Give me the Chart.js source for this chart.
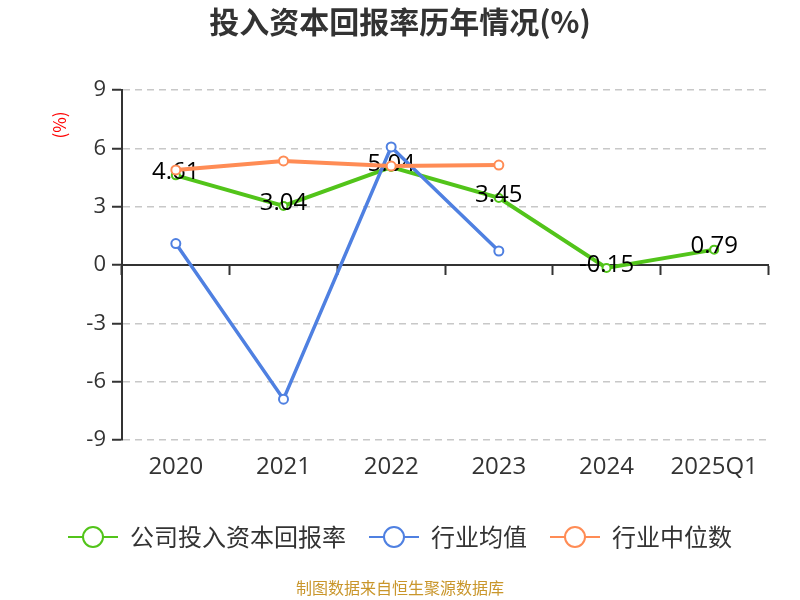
<!DOCTYPE html>
<html>
<head>
<meta charset="utf-8">
<script src="https://cdn.jsdelivr.net/npm/chart.js@4/dist/chart.umd.min.js"></script>
<style>
  html, body { margin: 0; padding: 0; background: #fff; }
  #wrap { width: 800px; height: 600px; }
</style>
</head>
<body>
<div id="wrap"><canvas id="roic-chart" width="800" height="600"></canvas></div>
<script>
const categories = ['2020', '2021', '2022', '2023', '2024', '2025Q1'];
const companyRoic = [4.61, 3.04, 5.04, 3.45, -0.15, 0.79];
const industryMean = [1.10, -6.90, 6.07, 0.72, null, null];
const industryMedian = [4.89, 5.35, 5.09, 5.14, null, null];
const yTicks = [-9, -6, -3, 0, 3, 6, 9];

const seriesNames = ['公司投入资本回报率', '行业均值', '行业中位数'];
const seriesColors = ['#52c41a', '#4f80e1', '#ff8c55'];

const FONT = '"Open Sans", "Noto Sans CJK SC", sans-serif';
const CJK_FONT = '"Noto Sans CJK SC", "Noto Sans", sans-serif';

// legend symbol: short line with a hollow circle in the middle
function legendSymbol(color) {
  const c = document.createElement('canvas');
  c.width = 50;
  c.height = 26;
  const ctx = c.getContext('2d');
  ctx.strokeStyle = color;
  ctx.lineWidth = 2;
  ctx.beginPath();
  ctx.moveTo(0, 13);
  ctx.lineTo(50, 13);
  ctx.stroke();
  ctx.beginPath();
  ctx.arc(25, 13, 10, 0, Math.PI * 2);
  ctx.fillStyle = '#fff';
  ctx.fill();
  ctx.stroke();
  return c;
}

const valueLabels = {
  id: 'valueLabels',
  afterDatasetDraw(chart, args) {
    if (args.index !== 0) {
      return;
    }
    const ctx = chart.ctx;
    ctx.save();
    ctx.font = '24px ' + FONT;
    ctx.fillStyle = '#000';
    ctx.textAlign = 'center';
    ctx.textBaseline = 'middle';
    args.meta.data.forEach((pt, i) => {
      const v = companyRoic[i];
      if (v === null) return;
      ctx.fillText(v.toFixed(2), pt.x, pt.y - 3);
    });
    ctx.restore();
  },
};

const unitLabel = {
  id: 'unitLabel',
  afterDraw(chart) {
    const ctx = chart.ctx;
    const top = chart.chartArea.top;
    ctx.save();
    ctx.translate(60, top + 35);
    ctx.rotate(-Math.PI / 2);
    ctx.font = '17px ' + CJK_FONT;
    ctx.fillStyle = '#ff0000';
    ctx.textAlign = 'center';
    ctx.textBaseline = 'middle';
    ctx.fillText('(%)', 0, 0);
    ctx.restore();
  },
};

function makeDataset(idx, values, order, lineWidth, radius) {
  return {
    label: seriesNames[idx],
    data: values,
    borderColor: seriesColors[idx],
    backgroundColor: seriesColors[idx],
    borderWidth: lineWidth,
    pointRadius: radius,
    pointHoverRadius: radius,
    pointBorderWidth: 2,
    pointBackgroundColor: '#fff',
    pointBorderColor: seriesColors[idx],
    tension: 0,
    spanGaps: false,
    order: order,
    xAxisID: 'x',
    yAxisID: 'y',
  };
}

function onPageLoad() {
  const chart = new Chart(document.getElementById('roic-chart'), {
    type: 'line',
    data: {
      labels: categories,
      datasets: [
        makeDataset(0, companyRoic, 3, 4, 4),
        makeDataset(1, industryMean, 2, 3.5, 4.5),
        makeDataset(2, industryMedian, 1, 4, 4.5),
      ],
    },
    options: {
      responsive: false,
      animation: false,
      layout: {
        padding: 0,
      },
      plugins: {
        title: {
          display: true,
          text: '投入资本回报率历年情况(%)',
          color: '#333',
          font: { family: CJK_FONT, size: 30, weight: 'bold' },
          padding: { top: 4, bottom: 50 },
        },
        subtitle: {
          display: true,
          position: 'bottom',
          text: '制图数据来自恒生聚源数据库',
          color: '#c9962b',
          font: { family: CJK_FONT, size: 16 },
          padding: { top: 19.4, bottom: 2.4 },
        },
        legend: {
          position: 'bottom',
          labels: {
            usePointStyle: true,
            pointStyleWidth: 50,
            boxHeight: 24,
            padding: 23,
            color: '#333',
            font: { family: CJK_FONT, size: 24 },
            generateLabels: () => seriesNames.map((name, i) => ({
              text: name,
              pointStyle: legendSymbol(seriesColors[i]),
              datasetIndex: i,
              fontColor: '#333',
              fillStyle: 'transparent',
              strokeStyle: 'transparent',
              lineWidth: 0,
              hidden: false,
            })),
          },
        },
        tooltip: { enabled: false },
      },
      scales: {
        x: {
          type: 'category',
          position: 'bottom',
          offset: true,
          grid: { display: false },
          border: { display: false },
          ticks: {
            color: '#333',
            padding: 5,
            font: { family: FONT, size: 24 },
            maxRotation: 0,
          },
          afterFit: (scale) => { scale.height = 62; },
        },
        x0: {
          type: 'category',
          position: { y: 0 },
          offset: true,
          grid: {
            offset: true,
            drawOnChartArea: false,
            drawTicks: true,
            tickLength: 9,
            tickColor: '#333',
            tickWidth: 2,
          },
          border: { display: true, color: '#333', width: 2 },
          ticks: { display: false },
        },
        y: {
          min: yTicks[0],
          max: yTicks[yTicks.length - 1],
          afterBuildTicks: (scale) => {
            scale.ticks = yTicks.map((v) => ({ value: v }));
          },
          grid: {
            color: (ctx) => (ctx.tick && ctx.tick.value === 0 ? 'rgba(0,0,0,0)' : '#c8c8c8'),
            lineWidth: 1.5,
            drawTicks: true,
            tickLength: 10,
            tickColor: '#333',
            tickWidth: 2,
          },
          border: { display: true, color: '#333', width: 2, dash: [7, 5] },
          ticks: {
            color: '#333',
            padding: 6,
            font: { family: FONT, size: 22 },
          },
          afterFit: (scale) => { scale.width = 122; },
        },
        // empty right-hand axis that only reserves the right margin
        yRight: {
          position: 'right',
          min: yTicks[0],
          max: yTicks[yTicks.length - 1],
          grid: { display: false },
          border: { display: false },
          ticks: { display: false },
          afterFit: (scale) => { scale.width = 32; },
        },
      },
    },
    plugins: [valueLabels, unitLabel],
  });
}

window.addEventListener('load', onPageLoad);
</script>
</body>
</html>
